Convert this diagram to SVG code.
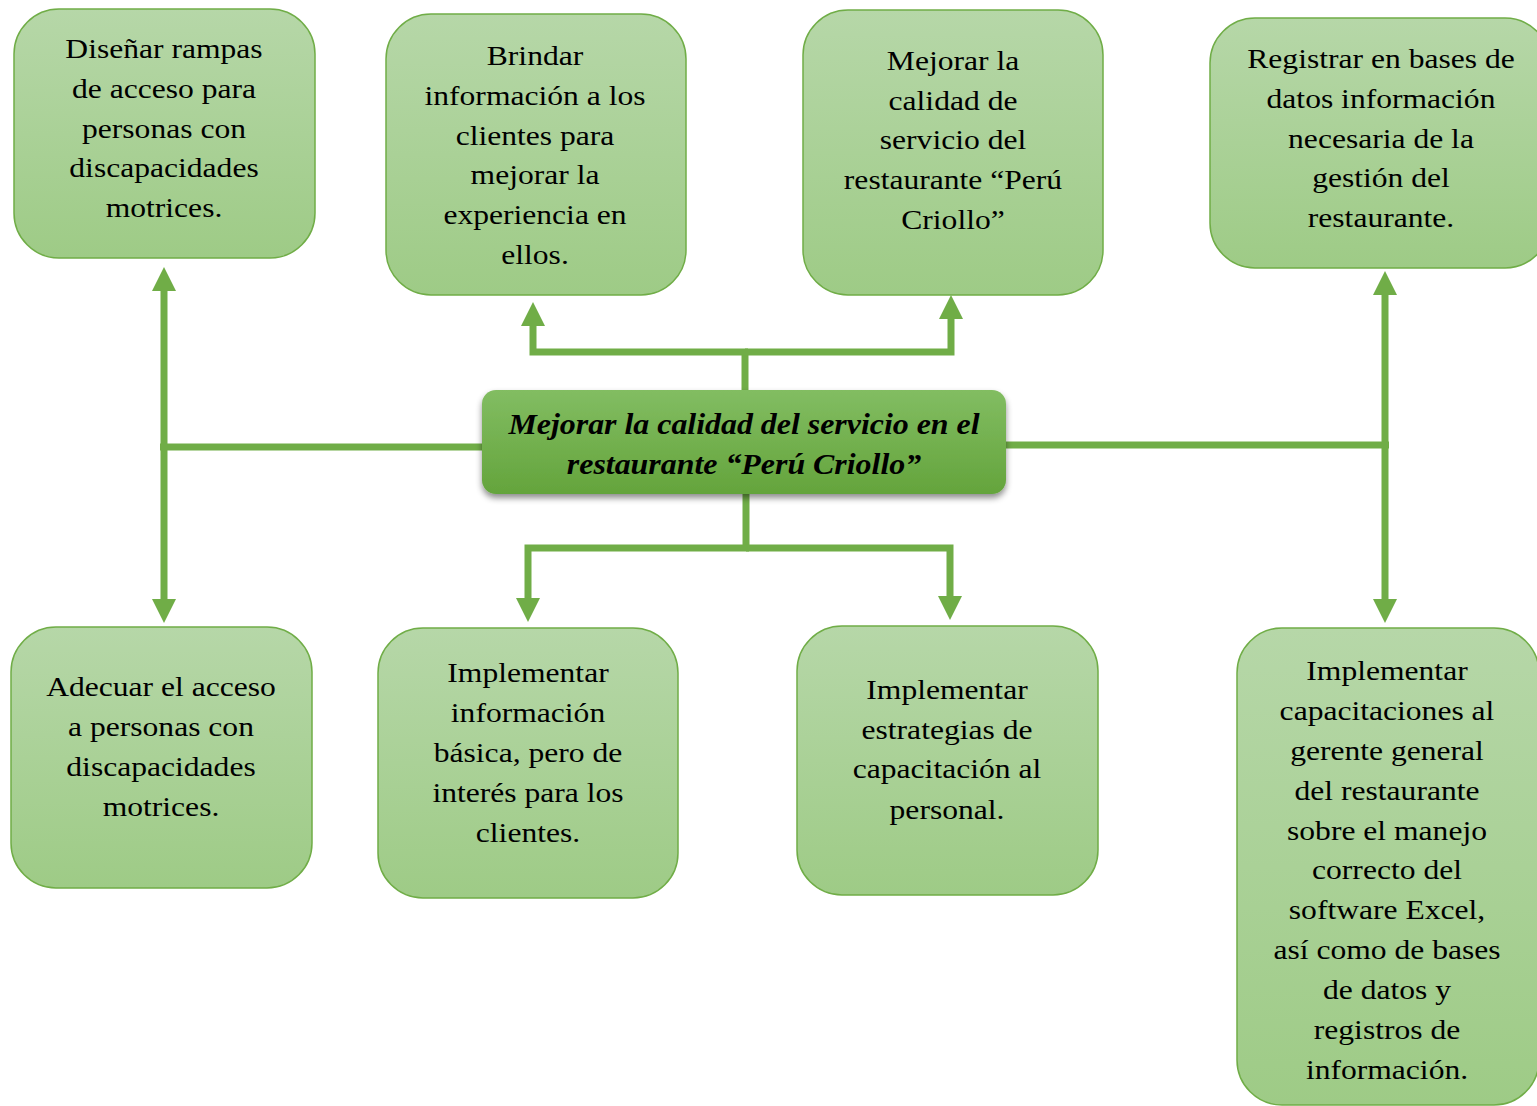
<svg xmlns="http://www.w3.org/2000/svg" width="1537" height="1106" viewBox="0 0 1537 1106">
<style>
.box{fill:url(#gBox);stroke:#70ad47;stroke-width:1.5}
.t{font-family:"Liberation Serif","Times New Roman",serif;font-size:27px;fill:#000;text-anchor:middle}
.tc{font-family:"Liberation Serif","Times New Roman",serif;font-size:29px;font-weight:bold;font-style:italic;fill:#000;text-anchor:middle}
.c{fill:none;stroke:#70ad47;stroke-width:7}
.ca{fill:none;stroke:#70ad47;stroke-width:7;marker-end:url(#ah)}
.cb{fill:none;stroke:#70ad47;stroke-width:7;marker-start:url(#ah);marker-end:url(#ah)}
</style>
<defs>
<linearGradient id="gBox" x1="0" y1="0" x2="0" y2="1">
<stop offset="0" stop-color="#b6d7a8"/>
<stop offset="1" stop-color="#9ecb86"/>
</linearGradient>
<linearGradient id="gCen" x1="0" y1="0" x2="0" y2="1">
<stop offset="0" stop-color="#82bd62"/>
<stop offset="1" stop-color="#64a43c"/>
</linearGradient>
<filter id="sh" x="-10%" y="-20%" width="120%" height="150%">
<feDropShadow dx="0" dy="4" stdDeviation="3" flood-color="#000" flood-opacity="0.45"/>
</filter>
<marker id="ah" viewBox="0 0 24 24" refX="0" refY="12" markerWidth="24" markerHeight="24" markerUnits="userSpaceOnUse" orient="auto-start-reverse">
<path d="M0,0 L24,12 L0,24 z" fill="#70ad47"/>
</marker>
</defs>

<g id="connectors">
<path class="c" d="M482,447 H160"/>
<path class="cb" d="M164,291 V599"/>
<path class="c" d="M1006,445 H1389"/>
<path class="cb" d="M1385,295 V599"/>
<path class="c" d="M745,390 V352"/>
<path class="ca" d="M748,352 H533 V326"/>
<path class="ca" d="M745,352 H951 V319"/>
<path class="c" d="M746,494 V548"/>
<path class="ca" d="M749,548 H528 V598"/>
<path class="ca" d="M746,548 H950 V596"/>
</g>

<g id="n1">
<rect class="box" x="14" y="9" width="301" height="249" rx="45"/>
<text class="t" transform="translate(164,0) scale(1.17,1)"><tspan x="0" y="58">Diseñar rampas</tspan><tspan x="0" y="98">de acceso para</tspan><tspan x="0" y="138">personas con</tspan><tspan x="0" y="177">discapacidades</tspan><tspan x="0" y="217">motrices.</tspan></text>
</g>
<g id="n2">
<rect class="box" x="386" y="14" width="300" height="281" rx="45"/>
<text class="t" transform="translate(535,0) scale(1.17,1)"><tspan x="0" y="65">Brindar</tspan><tspan x="0" y="105">información a los</tspan><tspan x="0" y="145">clientes para</tspan><tspan x="0" y="184">mejorar la</tspan><tspan x="0" y="224">experiencia en</tspan><tspan x="0" y="264">ellos.</tspan></text>
</g>
<g id="n3">
<rect class="box" x="803" y="10" width="300" height="285" rx="45"/>
<text class="t" transform="translate(953,0) scale(1.17,1)"><tspan x="0" y="70">Mejorar la</tspan><tspan x="0" y="110">calidad de</tspan><tspan x="0" y="149">servicio del</tspan><tspan x="0" y="189">restaurante “Perú</tspan><tspan x="0" y="229">Criollo”</tspan></text>
</g>
<g id="n4">
<rect class="box" x="1210" y="18" width="340" height="250" rx="45"/>
<text class="t" transform="translate(1381,0) scale(1.17,1)"><tspan x="0" y="68">Registrar en bases de</tspan><tspan x="0" y="108">datos información</tspan><tspan x="0" y="148">necesaria de la</tspan><tspan x="0" y="187">gestión del</tspan><tspan x="0" y="227">restaurante.</tspan></text>
</g>
<g id="center">
<rect x="482" y="390" width="524" height="104" rx="14" fill="url(#gCen)" filter="url(#sh)"/>
<text class="tc" transform="translate(744,0) scale(1.1,1)"><tspan x="0" y="434">Mejorar la calidad del servicio en el</tspan><tspan x="0" y="474">restaurante “Perú Criollo”</tspan></text>
</g>
<g id="n5">
<rect class="box" x="11" y="627" width="301" height="261" rx="45"/>
<text class="t" transform="translate(161,0) scale(1.17,1)"><tspan x="0" y="696">Adecuar el acceso</tspan><tspan x="0" y="736">a personas con</tspan><tspan x="0" y="776">discapacidades</tspan><tspan x="0" y="816">motrices.</tspan></text>
</g>
<g id="n6">
<rect class="box" x="378" y="628" width="300" height="270" rx="45"/>
<text class="t" transform="translate(528,0) scale(1.17,1)"><tspan x="0" y="682">Implementar</tspan><tspan x="0" y="722">información</tspan><tspan x="0" y="762">básica, pero de</tspan><tspan x="0" y="802">interés para los</tspan><tspan x="0" y="842">clientes.</tspan></text>
</g>
<g id="n7">
<rect class="box" x="797" y="626" width="301" height="269" rx="45"/>
<text class="t" transform="translate(947,0) scale(1.17,1)"><tspan x="0" y="699">Implementar</tspan><tspan x="0" y="739">estrategias de</tspan><tspan x="0" y="778">capacitación al</tspan><tspan x="0" y="819">personal.</tspan></text>
</g>
<g id="n8">
<rect class="box" x="1237" y="628" width="302" height="477" rx="45"/>
<text class="t" transform="translate(1387,0) scale(1.17,1)"><tspan x="0" y="680">Implementar</tspan><tspan x="0" y="720">capacitaciones al</tspan><tspan x="0" y="760">gerente general</tspan><tspan x="0" y="800">del restaurante</tspan><tspan x="0" y="840">sobre el manejo</tspan><tspan x="0" y="879">correcto del</tspan><tspan x="0" y="919">software Excel,</tspan><tspan x="0" y="959">así como de bases</tspan><tspan x="0" y="999">de datos y</tspan><tspan x="0" y="1039">registros de</tspan><tspan x="0" y="1079">información.</tspan></text>
</g>
</svg>
